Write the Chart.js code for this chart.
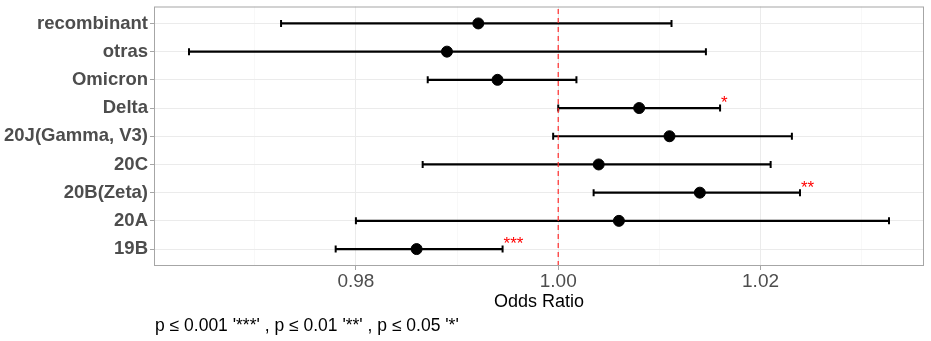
<!DOCTYPE html>
<html>
<head>
<meta charset="utf-8">
<title>Odds Ratio por variante</title>
<script src="https://cdn.jsdelivr.net/npm/chart.js"></script>
<style>
  html, body { margin: 0; padding: 0; background: #fff; }
  #wrap { position: relative; width: 931px; height: 341px; }
  #caption {
    position: absolute; left: 155px; top: 317px;
    font: 17.5px "Liberation Sans", Arial, sans-serif; line-height: 1;
    color: #000; white-space: pre;
  }
</style>
</head>
<body>
<div id="wrap">
  <canvas id="orChart"></canvas>
  <div id="caption">p ≤ 0.001 '***' , p ≤ 0.01 '**' , p ≤ 0.05 '*'</div>
</div>
<script>
// variantes, de arriba hacia abajo
const variants = ["recombinant", "otras", "Omicron", "Delta", "20J(Gamma, V3)", "20C", "20B(Zeta)", "20A", "19B"];
const oddsRatio = [0.9921, 0.9890, 0.9940, 1.0080, 1.0110, 1.0040, 1.0140, 1.0060, 0.9860];
const ciLow     = [0.9726, 0.9635, 0.9871, 1.0000, 0.9995, 0.9866, 1.0035, 0.9800, 0.9780];
const ciHigh    = [1.0112, 1.0146, 1.0018, 1.0160, 1.0231, 1.0210, 1.0239, 1.0327, 0.9945];
const signif    = ["", "", "", "*", "", "", "**", "", "***"];

// eje x: lineas de la grilla y etiquetas
const xGridValues = [0.97, 0.98, 0.99, 1.00, 1.01, 1.02, 1.03];
const xTickLabels = ["0.98", "1.00", "1.02"];
const refValue = 1;

const nRows = variants.length;
const rowY = i => nRows - i; // la primera variante va arriba

// rango como ggplot (expansion del 5%)
const lo = Math.min(...ciLow), hi = Math.max(...ciHigh);
const xMin = lo - 0.05 * (hi - lo);
const xMax = hi + 0.05 * (hi - lo);
const yMin = 0.4, yMax = nRows + 0.6;

const FONT = '"Liberation Sans", Arial, sans-serif';
const GRID_MAJOR = "#EBEBEB";
const GRID_MINOR = "#F5F5F5";
const TICK = "#A6A6A6";

const isMajor = v => xTickLabels.includes(Number(v).toFixed(2));

// intervalos de confianza (una linea por variante, con tapas)
const whiskerSets = variants.map((v, i) => ({
  label: v,
  data: [{ x: ciLow[i], y: rowY(i) }, { x: ciHigh[i], y: rowY(i) }],
  showLine: true,
  borderColor: "#000",
  borderWidth: 2.2,
  pointStyle: "line",
  rotation: 90,
  pointRadius: 3.5,
  pointBorderWidth: 2,
  pointBorderColor: "#000",
  order: 2
}));

const pointSet = {
  label: "OR",
  data: variants.map((v, i) => ({ x: oddsRatio[i], y: rowY(i) })),
  showLine: false,
  pointRadius: 5.5,
  pointBackgroundColor: "#000",
  pointBorderColor: "#000",
  order: 0
};

const refSet = {
  label: "ref",
  data: [{ x: refValue, y: yMin }, { x: refValue, y: yMax }],
  showLine: true,
  borderColor: "#FF2A2A",
  borderWidth: 1.2,
  borderDash: [5, 4],
  pointRadius: 0,
  order: 1
};

// borde del panel
const panelBorder = {
  id: "panelBorder",
  afterDatasetsDraw(chart) {
    const { ctx, chartArea: a } = chart;
    ctx.save();
    ctx.strokeStyle = TICK;
    ctx.lineWidth = 1;
    ctx.strokeRect(a.left + 0.5, a.top + 0.5, a.right - a.left - 1, a.bottom - a.top - 1);
    ctx.restore();
  }
};

// asteriscos de significancia
const sigStars = {
  id: "sigStars",
  afterDatasetsDraw(chart) {
    const { ctx, scales: { x, y } } = chart;
    ctx.save();
    ctx.fillStyle = "#FF0000";
    ctx.font = "17px " + FONT;
    ctx.textAlign = "left";
    ctx.textBaseline = "alphabetic";
    signif.forEach((s, i) => {
      if (!s) return;
      ctx.fillText(s, x.getPixelForValue(ciHigh[i]) + 1, y.getPixelForValue(rowY(i)));
    });
    ctx.restore();
  }
};

new Chart(document.getElementById("orChart"), {
  type: "scatter",
  data: { datasets: [pointSet, refSet, ...whiskerSets] },
  plugins: [panelBorder, sigStars],
  options: {
    responsive: true,
    maintainAspectRatio: false,
    animation: false,
    layout: { padding: { top: 5, right: 7, left: 0, bottom: 0 } },
    plugins: {
      legend: { display: false },
      tooltip: { enabled: false }
    },
    scales: {
      x: {
        type: "linear",
        min: xMin,
        max: xMax,
        afterBuildTicks: s => { s.ticks = xGridValues.map(v => ({ value: v })); },
        afterFit: s => { s.height = 75; s.paddingLeft = 0; s.paddingRight = 0; },
        ticks: {
          callback: v => (isMajor(v) ? Number(v).toFixed(2) : ""),
          color: "#4D4D4D",
          font: { family: FONT, size: 19 },
          padding: 0,
          maxRotation: 0,
          autoSkip: false
        },
        grid: {
          color: c => (isMajor(c.tick.value) ? GRID_MAJOR : GRID_MINOR),
          lineWidth: c => (isMajor(c.tick.value) ? 1 : 0.7),
          tickLength: 4,
          tickColor: c => (isMajor(c.tick.value) ? TICK : "rgba(0,0,0,0)")
        },
        border: { display: false },
        title: {
          display: true,
          text: "Odds Ratio",
          color: "#000",
          font: { family: FONT, size: 18 },
          padding: { top: 0, bottom: 28 }
        }
      },
      y: {
        type: "linear",
        min: yMin,
        max: yMax,
        afterBuildTicks: s => { s.ticks = variants.map((v, i) => ({ value: rowY(i) })).reverse(); },
        afterFit: s => { s.width = 154; s.paddingTop = 0; s.paddingBottom = 0; },
        ticks: {
          callback: v => variants[nRows - v],
          color: "#4D4D4D",
          font: { family: FONT, size: 18.5, weight: "bold" },
          padding: 2,
          autoSkip: false
        },
        grid: { color: GRID_MAJOR, lineWidth: 1, tickLength: 4, tickColor: TICK },
        border: { display: false }
      }
    }
  }
});
</script>
</body>
</html>
